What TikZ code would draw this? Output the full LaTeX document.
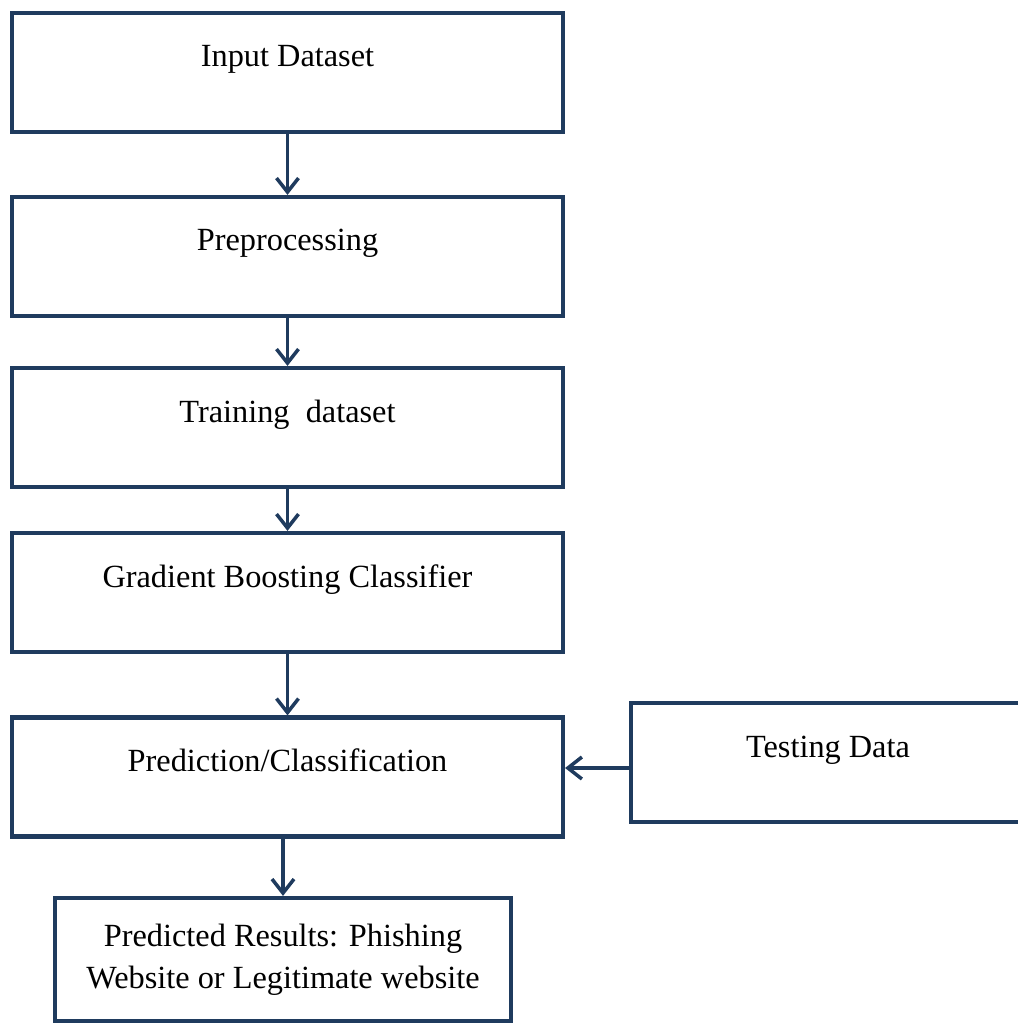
\documentclass[tikz,border=0pt]{standalone}
\usepackage{fontspec}
\setmainfont{Liberation Serif}
\usepackage{tikz}
\usetikzlibrary{arrows.meta}
\definecolor{navy}{HTML}{1F3B5E}
\definecolor{ink}{HTML}{000000}
\tikzset{
  stepbox/.style={draw=navy, line width=2.4pt, fill=white, rectangle,
    minimum width=11.02cm, minimum height=2.38cm,
    text height=0.45cm, text depth=0.67cm, text=ink},
  flow/.style={draw=navy, line width=2pt,
    -{Straight Barb[length=0.28cm, width=0.44cm, line width=2pt]}},
  lab/.style={font=\fontsize{18.4}{24}\selectfont}
}
\begin{document}
\begin{tikzpicture}[x=0.02cm, y=-0.02cm]
  \useasboundingbox (0,0) rectangle (1017,1023);

  % main column
  \node[stepbox, lab] (input) at (287.5,72.5)  {Input Dataset};
  \node[stepbox, lab] (prep)  at (287.5,256.5) {Preprocessing};
  \node[stepbox, lab] (train) at (287.5,427.5) {Training\ \ dataset};
  \node[stepbox, lab] (gbc)   at (287.5,592.5) {Gradient Boosting Classifier};
  \node[stepbox, lab] (pred)  at (287.5,777)   {Prediction/Classification};

  % side input
  \node[stepbox, lab, minimum width=7.88cm] (test) at (828,762.5) {Testing Data};

  % result
  \node[stepbox, lab, minimum width=9.12cm, minimum height=2.46cm,
        text height=, text depth=, align=center] (res) at (283,959.5)
        {Predicted Results: Phishing\\Website or Legitimate website};

  \draw[flow] (input) -- (prep);
  \draw[flow] (prep)  -- (train);
  \draw[flow] (train) -- (gbc);
  \draw[flow] (gbc)   -- (pred);
  \draw[flow] (pred.south -| res.north) -- (res);
  \draw[flow] ([yshift=-0.11cm]test.west) -- ([yshift=-0.11cm]test.west -| pred.east);
\end{tikzpicture}
\end{document}
